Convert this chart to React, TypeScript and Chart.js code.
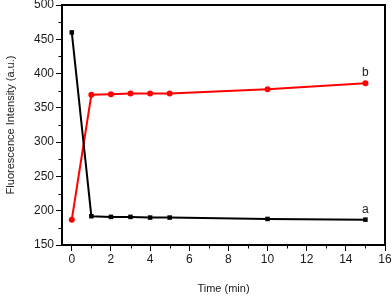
import React, { useEffect, useRef } from "react";
import { Chart, registerables } from "chart.js";

Chart.register(...registerables);

const times = [0, 1, 2, 3, 4, 5, 10, 15];
const seriesA = [460, 192, 191, 191, 190, 190, 188, 187];
const seriesB = [187, 369, 370, 371, 371, 371, 377, 386];
const xTicks = [0, 2, 4, 6, 8, 10, 12, 14, 16];
const xMinor = [1, 3, 5, 7, 9, 11, 13, 15];
const yMinor = [175, 225, 275, 325, 375, 425, 475];
const seriesLabels = ["a", "b"];

const framePlugin = {
  id: "frame",
  afterDraw(chart: any) {
    const { ctx, chartArea } = chart;
    const xs = chart.scales.x;
    const ys = chart.scales.y;
    ctx.save();
    ctx.strokeStyle = "#000";
    ctx.lineWidth = 2;
    ctx.beginPath();
    ctx.moveTo(chartArea.left, chartArea.top);
    ctx.lineTo(chartArea.right, chartArea.top);
    ctx.lineTo(chartArea.right, chartArea.bottom);
    ctx.stroke();
    ctx.lineWidth = 1;
    ctx.beginPath();
    xMinor.forEach((v) => {
      const px = Math.round(xs.getPixelForValue(v)) + 0.5;
      ctx.moveTo(px, chartArea.bottom);
      ctx.lineTo(px, chartArea.bottom + 3.5);
    });
    yMinor.forEach((v) => {
      const py = Math.round(ys.getPixelForValue(v)) + 0.5;
      ctx.moveTo(chartArea.left, py);
      ctx.lineTo(chartArea.left - 3.5, py);
    });
    ctx.stroke();
    ctx.fillStyle = "#222";
    ctx.font = "12px 'Liberation Sans', Arial, sans-serif";
    ctx.textAlign = "center";
    ctx.textBaseline = "bottom";
    const lastIdx = times.length - 1;
    const lx = xs.getPixelForValue(times[lastIdx]);
    ctx.fillText(seriesLabels[0], lx, ys.getPixelForValue(seriesA[lastIdx]) - 4);
    ctx.fillText(seriesLabels[1], lx, ys.getPixelForValue(seriesB[lastIdx]) - 4);
    ctx.restore();
  },
};

export default function App() {
  const ref = useRef<HTMLCanvasElement>(null);
  useEffect(() => {
    document.body.style.margin = "0";
    const font = { family: "'Liberation Sans', Arial, sans-serif", size: 12 };
    const chart = new Chart(ref.current!, {
      type: "line",
      data: {
        datasets: [
          {
            label: "a",
            data: times.map((t, i) => ({ x: t, y: seriesA[i] })),
            borderColor: "#000",
            backgroundColor: "#000",
            borderWidth: 2,
            pointStyle: "rect",
            pointRadius: 3.2,
            pointBorderWidth: 0,
          },
          {
            label: "b",
            data: times.map((t, i) => ({ x: t, y: seriesB[i] })),
            borderColor: "#ff0000",
            backgroundColor: "#ff0000",
            borderWidth: 2,
            pointStyle: "circle",
            pointRadius: 3,
            pointBorderWidth: 0,
          },
        ],
      },
      options: {
        animation: false,
        responsive: false,
        devicePixelRatio: 1,
        layout: { padding: { top: 5, right: 7, left: 0, bottom: 0 } },
        plugins: { legend: { display: false }, tooltip: { enabled: false } },
        scales: {
          x: {
            type: "linear",
            min: -0.5,
            max: 16,
            afterBuildTicks: (s: any) => {
              s.ticks = xTicks.map((v) => ({ value: v }));
            },
            afterFit: (s: any) => {
              s.height = 53;
              s.paddingRight = 0;
              s.paddingLeft = 0;
            },
            grid: { drawOnChartArea: false, drawTicks: true, tickLength: 6, color: "#000", tickWidth: 1 },
            border: { display: true, color: "#000", width: 2 },
            ticks: { font, color: "#1a1a1a", padding: 1, maxRotation: 0 },
            title: {
              display: true,
              text: "Time (min)",
              font: { family: font.family, size: 11 },
              color: "#1a1a1a",
              padding: { top: 0, bottom: 2 },
            },
          },
          y: {
            type: "linear",
            min: 150,
            max: 500,
            ticks: { stepSize: 50, font, color: "#1a1a1a", padding: 2 },
            afterFit: (s: any) => {
              s.width = 62;
              s.paddingTop = 0;
              s.paddingBottom = 0;
            },
            grid: { drawOnChartArea: false, drawTicks: true, tickLength: 6, color: "#000", tickWidth: 1 },
            border: { display: true, color: "#000", width: 2 },
            title: {
              display: true,
              text: "Fluorescence Intensity (a.u.)",
              font: { family: font.family, size: 11 },
              color: "#1a1a1a",
              padding: { top: 4, bottom: 4 },
            },
          },
        },
      },
      plugins: [framePlugin],
    } as any);
    return () => chart.destroy();
  }, []);
  return (
    <div style={{ position: "absolute", left: 0, top: 0, width: 392, height: 298, background: "#fff" }}>
      <canvas ref={ref} width={392} height={298} />
    </div>
  );
}
